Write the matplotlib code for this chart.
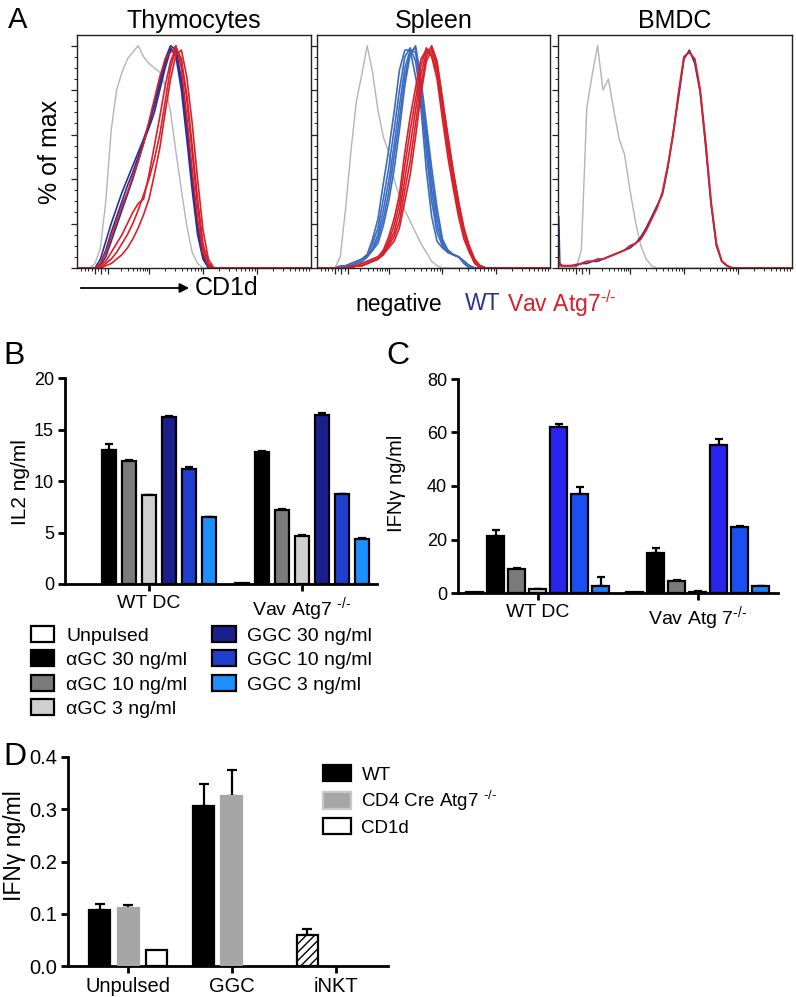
import numpy as np
import matplotlib
matplotlib.use('Agg')
import matplotlib.pyplot as plt
from matplotlib.patches import Patch
from matplotlib.ticker import MultipleLocator, FixedLocator, NullFormatter, FormatStrFormatter

plt.rcParams['font.family'] = ['Liberation Sans', 'DejaVu Sans']
plt.rcParams['mathtext.fontset'] = 'custom'
plt.rcParams['mathtext.rm'] = 'Liberation Sans'
plt.rcParams['mathtext.it'] = 'Liberation Sans:italic'

W, H = 796, 997

# ---------------- A: CD1d histograms (x = logicle display units, y = % of max)
thy_x = [0.7, 0.9, 1.0, 1.1, 1.2, 1.3, 1.4, 1.5, 1.6, 1.7, 1.8, 1.9, 2.0, 2.1, 2.2,
         2.3, 2.4, 2.5, 2.6, 2.7, 2.8, 2.9, 3.0, 3.1, 3.2, 5.0]
thy_neg = [0, 0, 2, 9, 30, 62, 80, 88, 94, 97, 100, 95, 92, 90, 88, 82, 70, 52, 35, 19, 7, 2, 0, 0, 0, 0]
thy_wt = [
    [0, 0, 0, 4, 12, 20, 27, 34, 40, 46, 52, 58, 65, 73, 82, 92, 99, 95, 80, 58, 35, 15, 4, 0, 0, 0],
    [0, 0, 0, 2, 8, 16, 23, 30, 37, 43, 50, 57, 63, 70, 80, 90, 98, 97, 83, 62, 38, 17, 5, 1, 0, 0],
    [0, 0, 0, 1, 5, 12, 19, 26, 33, 40, 48, 56, 64, 74, 84, 94, 100, 98, 85, 64, 40, 19, 6, 1, 0, 0],
]
thy_ko = [
    [0, 0, 0, 0, 1, 2, 4, 6, 9, 13, 18, 24, 31, 42, 54, 70, 85, 96, 98, 86, 65, 40, 17, 4, 0, 0],
    [0, 0, 0, 0, 2, 4, 7, 11, 15, 20, 26, 33, 40, 49, 60, 75, 90, 99, 93, 78, 55, 31, 11, 2, 0, 0],
    [0, 0, 0, 1, 3, 7, 11, 15, 20, 25, 29, 31, 42, 55, 68, 82, 93, 99, 94, 76, 52, 28, 9, 2, 0, 0],
    [0, 0, 0, 2, 7, 14, 21, 28, 34, 41, 48, 56, 66, 76, 86, 94, 97, 100, 90, 68, 44, 22, 7, 1, 0, 0],
]

spl_x = [0.7, 0.9, 1.0, 1.1, 1.2, 1.3, 1.4, 1.5, 1.6, 1.7, 1.8, 1.9, 2.0, 2.1, 2.2, 2.3,
         2.4, 2.5, 2.6, 2.7, 2.8, 2.9, 3.0, 3.1, 3.2, 3.3, 3.4, 3.5, 3.6, 3.7, 3.8, 5.0]
spl_neg = [0, 0, 0, 5, 27, 53, 75, 87, 100, 88, 71, 59, 52, 40, 32, 26, 21, 16, 11, 7, 3, 1,
           0, 0, 0, 0, 0, 0, 0, 0, 0, 0]
spl_wt = [
    [0, 0, 0, 1, 1, 2, 3, 4, 6, 13, 22, 38, 53, 70, 89, 98, 98, 86, 72, 44, 23, 12, 9, 7, 6, 5, 2, 0, 0, 0, 0, 0],
    [0, 0, 0, 0, 1, 2, 3, 4, 6, 11, 18, 31, 45, 62, 80, 95, 99, 93, 76, 52, 30, 16, 10, 7, 6, 5, 3, 1, 0, 0, 0, 0],
    [0, 0, 0, 0, 1, 1, 2, 3, 5, 9, 15, 26, 39, 55, 73, 90, 98, 97, 80, 57, 35, 19, 11, 8, 6, 5, 3, 1, 0, 0, 0, 0],
    [0, 0, 0, 0, 1, 1, 2, 3, 5, 8, 13, 22, 34, 50, 67, 86, 97, 99, 83, 61, 40, 23, 12, 8, 6, 5, 3, 1, 0, 0, 0, 0],
    [0, 0, 0, 0, 1, 1, 2, 3, 5, 8, 11, 19, 30, 44, 62, 82, 96, 100, 85, 65, 45, 27, 13, 8, 6, 5, 3, 1, 0, 0, 0, 0],
]
spl_ko = [
    [0, 0, 0, 0, 0, 1, 1, 2, 3, 4, 5, 8, 14, 22, 33, 52, 68, 81, 94, 98, 95, 85, 67, 50, 36, 23, 13, 7, 2, 0, 0, 0],
    [0, 0, 0, 0, 0, 1, 1, 2, 3, 4, 5, 7, 12, 19, 29, 46, 62, 76, 91, 99, 96, 88, 71, 54, 39, 26, 15, 8, 3, 1, 0, 0],
    [0, 0, 0, 0, 0, 0, 1, 1, 2, 3, 4, 7, 11, 16, 25, 40, 55, 71, 87, 97, 99, 90, 73, 56, 41, 27, 16, 9, 3, 1, 0, 0],
    [0, 0, 0, 0, 0, 0, 1, 1, 2, 3, 4, 6, 10, 14, 21, 35, 48, 65, 82, 95, 100, 93, 76, 58, 43, 29, 17, 9, 3, 1, 0, 0],
    [0, 0, 0, 0, 0, 0, 1, 1, 2, 3, 4, 6, 9, 12, 18, 30, 42, 59, 78, 93, 98, 92, 76, 60, 44, 30, 18, 10, 4, 1, 0, 0],
]

bm_x = [0.68, 0.7, 0.75, 0.9, 1.0, 1.1, 1.2, 1.3, 1.4, 1.5, 1.6, 1.7, 1.8, 1.9, 2.0, 2.1, 2.2,
        2.3, 2.4, 2.5, 2.6, 2.7, 2.8, 2.9, 3.0, 3.1, 3.2, 3.3, 3.4, 3.5, 3.6, 3.7, 3.8, 3.9, 5.0]
bm_neg = [0, 0, 0, 0, 0, 8, 72, 87, 100, 80, 85, 71, 58, 51, 35, 21, 10, 4, 1, 0,
          0, 0, 0, 0, 0, 0, 0, 0, 0, 0, 0, 0, 0, 0, 0]
bm_wt = [23, 2, 1, 1, 1, 2, 2, 3, 3, 4, 5, 6, 7, 8, 9, 11, 14, 18, 23, 28, 33, 45, 61, 77, 94,
         98, 92, 79, 55, 29, 10, 3, 1, 0, 0]
bm_ko = [5, 1, 1, 1, 1.5, 2, 3, 3, 4, 4, 5, 6, 7, 8, 10, 11, 13, 17, 22, 27, 34, 46, 60, 79, 95,
         97, 94, 80, 57, 30, 11, 3, 1, 0, 0]

# ---------------- B / C: cytokine release by DC groups
dc_groups_b = ['WT DC', r'Vav Atg7 $^{\text{-/-}}$']
dc_groups_c = ['WT DC', r'Vav Atg 7$^{\text{-/-}}$']
treatments = ['Unpulsed', 'αGC 30 ng/ml', 'αGC 10 ng/ml', 'αGC 3 ng/ml',
              'GGC 30 ng/ml', 'GGC 10 ng/ml', 'GGC 3 ng/ml']
il2_wt = [np.nan, 13.0, 11.9, 8.6, 16.2, 11.2, 6.5]
il2_wt_err = [0, 0.6, 0.1, 0.08, 0.15, 0.15, 0.05]
il2_ko = [0.1, 12.8, 7.2, 4.7, 16.4, 8.7, 4.4]
il2_ko_err = [0, 0.12, 0.05, 0.1, 0.25, 0.05, 0.05]
ifn_wt = [0.3, 21.3, 8.8, 1.4, 62.0, 37.0, 2.7]
ifn_wt_err = [0, 2.3, 0.4, 0.2, 1.2, 2.7, 3.3]
ifn_ko = [0.2, 15.0, 4.5, 0.5, 55.5, 24.5, 2.6]
ifn_ko_err = [0, 1.8, 0.3, 0.1, 2.0, 0.6, 0.2]

# ---------------- D: IFNg from iNKT
d_groups = ['Unpulsed', 'GGC', 'iNKT']
d_series = ['WT', r'CD4 Cre Atg7 $^{\text{-/-}}$', 'CD1d']
d_wt = [0.108, 0.306, np.nan]
d_wt_err = [0.010, 0.042, 0.0]
d_cre = [0.111, 0.325, np.nan]
d_cre_err = [0.005, 0.050, 0.0]
d_cd1d = [0.030, np.nan, np.nan]
inkt_alone = 0.059
inkt_alone_err = 0.011

GRAY = '#b4b4b4'
RED = '#d7202a'
NAVY = '#2b3192'
SKY = '#3c6cc0'

fig = plt.figure(figsize=(W / 100, H / 100), dpi=100)


def box(x0, y0, x1, y1):
    return [x0 / W, 1 - y1 / H, (x1 - x0) / W, (y1 - y0) / H]


def ftext(x, y, s, **kw):
    return fig.text(x / W, 1 - y / H, s, **kw)


major_x = [1.0, 1.12, 1.25, 2.0, 3.0, 4.0]
minor_x = [0.74, 0.81, 0.87, 0.94, 1.06, 1.18] + \
          [1.25 + 0.75 * np.log10(k) for k in range(2, 10)] + \
          [d + np.log10(k) for d in (2, 3, 4) for k in range(2, 10)]


def hist_axes(rect, title):
    ax = fig.add_axes(rect)
    ax.set_xlim(0.667, 5.0)
    ax.set_ylim(0, 104.8)
    for s in ax.spines.values():
        s.set_linewidth(1.0)
        s.set_color('#222222')
    ax.yaxis.set_major_locator(MultipleLocator(20))
    ax.yaxis.set_minor_locator(MultipleLocator(5))
    ax.xaxis.set_major_locator(FixedLocator(major_x))
    ax.xaxis.set_minor_locator(FixedLocator(minor_x))
    ax.xaxis.set_major_formatter(NullFormatter())
    ax.yaxis.set_major_formatter(NullFormatter())
    ax.tick_params(which='major', direction='out', length=4, width=0.9, color='#222222')
    ax.tick_params(which='minor', direction='out', length=2.2, width=0.7, color='#222222')
    ax.set_title(title, fontsize=18, pad=5)
    return ax


ax = hist_axes(box(77, 35, 311, 268), 'Thymocytes')
ax.plot(thy_x, thy_neg, color=GRAY, lw=1.0)
for c in thy_wt:
    ax.plot(thy_x, c, color=NAVY, lw=1.2)
for c in thy_ko:
    ax.plot(thy_x, c, color=RED, lw=1.2)

ax = hist_axes(box(317, 35, 550, 268), 'Spleen')
ax.plot(spl_x, spl_neg, color=GRAY, lw=1.0)
for c in spl_wt:
    ax.plot(spl_x, c, color=SKY, lw=1.2)
for c in spl_ko:
    ax.plot(spl_x, c, color=RED, lw=1.2)

ax = hist_axes(box(558, 35, 792, 268), 'BMDC')
ax.plot(bm_x, bm_neg, color=GRAY, lw=1.0)
ax.plot(bm_x, bm_wt, color=NAVY, lw=1.2)
ax.plot(bm_x, bm_ko, color=RED, lw=1.4)

ftext(8, 20, 'A', fontsize=21, va='center', ha='left')
ftext(50, 152, '% of max', fontsize=18, rotation=90, va='center', ha='center')
fig.add_artist(matplotlib.patches.FancyArrowPatch(
    (78 / W, 1 - 288 / H), (192 / W, 1 - 288 / H), transform=fig.transFigure,
    arrowstyle='-|>', mutation_scale=14, lw=1.3, color='k'))
ftext(195, 288, 'CD1d', fontsize=18, va='center', ha='left')
ftext(355, 304, 'negative', fontsize=16.5, va='center', ha='left')
ftext(465, 304, 'WT', fontsize=16.5, va='center', ha='left', color=NAVY)
ftext(507, 304, r'Vav Atg7$^{\text{-/-}}$', fontsize=16.5, va='center', ha='left', color=RED)

# ---------------- bar panels
b_colors = ['white', 'black', '#7b7b7b', '#cfcfcf', '#1b1f8e', '#1f3fcf', '#1e8fff']
c_colors = ['white', 'black', '#7b7b7b', '#cfcfcf', '#2a24ee', '#1a50f2', '#1e80ff']


def bar_axes(rect, xsize=14, ysize=13):
    ax = fig.add_axes(rect)
    for s in ('top', 'right'):
        ax.spines[s].set_visible(False)
    for s in ('left', 'bottom'):
        ax.spines[s].set_linewidth(2.0)
    ax.tick_params(direction='out', length=5, width=2.0, pad=3)
    ax.tick_params(axis='x', labelsize=xsize)
    ax.tick_params(axis='y', labelsize=ysize)
    return ax


def cytokine(ax, wt, wt_err, ko, ko_err, colors, centers, width):
    for g, (vals, errs) in enumerate([(wt, wt_err), (ko, ko_err)]):
        xs = centers[g] + np.arange(len(vals)) - 3
        ax.bar(xs, vals, width=width, color=colors, edgecolor='black', linewidth=1.6, zorder=3)
        up = np.array(errs)
        keep = up > 0
        ax.errorbar(xs[keep], np.array(vals)[keep], yerr=[np.zeros(keep.sum()), up[keep]],
                    fmt='none', ecolor='black', elinewidth=1.6, capsize=3.2, capthick=1.6, zorder=2)


axb = bar_axes(box(65, 378, 377, 584))
centers_b = [0, 7.65]
cytokine(axb, il2_wt, il2_wt_err, il2_ko, il2_ko_err, b_colors, centers_b, 0.72)
axb.set_xlim(-4.2, 11.4)
axb.set_ylim(0, 20)
axb.set_yticks([0, 5, 10, 15, 20])
axb.set_xticks(centers_b)
axb.set_xticklabels(dc_groups_b)
ftext(20, 482, 'IL2 ng/ml', fontsize=15, rotation=90, va='center', ha='center')
ftext(3, 356, 'B', fontsize=23, va='center', ha='left')

axc = bar_axes(box(458, 379, 778, 593))
centers_c = [0, 7.62]
cytokine(axc, ifn_wt, ifn_wt_err, ifn_ko, ifn_ko_err, c_colors, centers_c, 0.79)
axc.set_xlim(-3.8, 11.45)
axc.set_ylim(0, 80)
axc.set_yticks([0, 20, 40, 60, 80])
axc.set_xticks(centers_c)
axc.set_xticklabels(dc_groups_c)
ftext(397, 483, 'IFNγ ng/ml', fontsize=14.5, rotation=90, va='center', ha='center')
ftext(386, 356, 'C', fontsize=23, va='center', ha='left')

handles = [Patch(facecolor=c, edgecolor='black', linewidth=1.6) for c in b_colors]
fig.legend(handles, treatments, loc='upper left', bbox_to_anchor=(31 / W, 1 - 626 / H),
           ncol=2, frameon=False, fontsize=14, handlelength=1.2, handleheight=0.88,
           handletextpad=0.6, columnspacing=1.3, labelspacing=0.3, borderpad=0, borderaxespad=0)

# ---------------- D
axd = bar_axes(box(68, 757, 388, 966), xsize=14.5, ysize=14.5)
pos = np.arange(3) * 3.68
wd = 0.745
axd.bar(pos - 1, d_wt, width=wd, color='black', edgecolor='black', linewidth=1.6, zorder=3)
axd.bar(pos, d_cre, width=wd, color='#a6a6a6', edgecolor='#a6a6a6', linewidth=1.6, zorder=3)
axd.bar(pos + 1, d_cd1d, width=wd, color='white', edgecolor='black', linewidth=1.6, zorder=3)
for off, vals, errs in [(-1, d_wt, d_wt_err), (0, d_cre, d_cre_err)]:
    xs = pos + off
    keep = np.array(errs) > 0
    axd.errorbar(xs[keep], np.array(vals)[keep],
                 yerr=[np.zeros(keep.sum()), np.array(errs)[keep]],
                 fmt='none', ecolor='black', elinewidth=1.6, capsize=3.5, capthick=1.6, zorder=2)
axd.bar(pos[2] - 1, inkt_alone, width=wd, color='white', edgecolor='black', linewidth=1.6,
        hatch='////', zorder=3)
axd.errorbar([pos[2] - 1], [inkt_alone], yerr=[[0], [inkt_alone_err]], fmt='none',
             ecolor='black', elinewidth=1.6, capsize=3.5, capthick=1.6, zorder=2)
axd.set_xlim(-2.13, 9.22)
axd.set_ylim(0, 0.4)
axd.set_yticks([0, 0.1, 0.2, 0.3, 0.4])
axd.yaxis.set_major_formatter(FormatStrFormatter('%.1f'))
axd.set_xticks(pos)
axd.set_xticklabels(d_groups)
ftext(15, 846, 'IFNγ ng/ml', fontsize=16.5, rotation=90, va='center', ha='center')
ftext(3, 757, 'D', fontsize=23, va='center', ha='left')

d_handles = [Patch(facecolor='black', edgecolor='black', linewidth=1.6),
             Patch(facecolor='#a6a6a6', edgecolor='#c8c8c8', linewidth=1.6),
             Patch(facecolor='white', edgecolor='black', linewidth=1.6)]
fig.legend(d_handles, d_series, loc='upper left', bbox_to_anchor=(323 / W, 1 - 765 / H),
           frameon=False, fontsize=13.5, handlelength=1.5, handleheight=0.95,
           handletextpad=0.55, labelspacing=0.28, borderpad=0, borderaxespad=0)

fig.savefig('out.png', dpi=100)
